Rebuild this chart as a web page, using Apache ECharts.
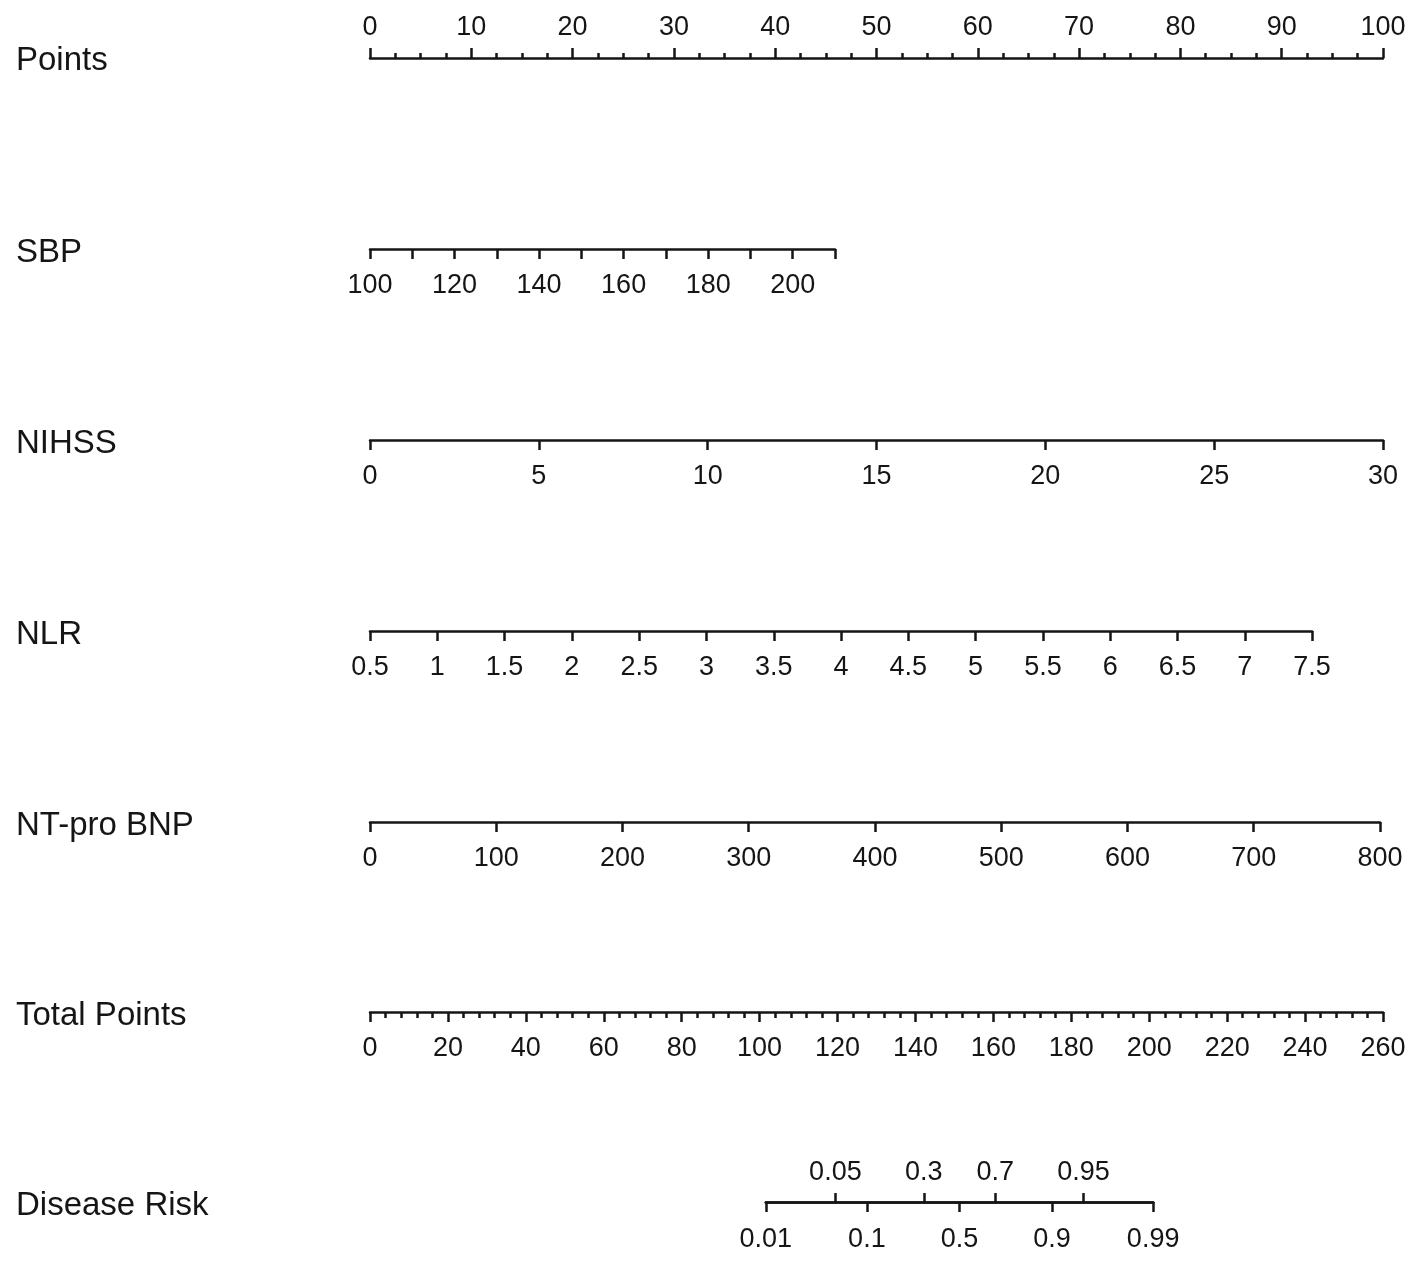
<!DOCTYPE html>
<html>
<head>
<meta charset="utf-8">
<script src="https://cdn.jsdelivr.net/npm/echarts@6/dist/echarts.min.js"></script>
<style>
html, body { margin: 0; background: #fff; }
#main { width: 1414px; height: 1262px; }
</style>
</head>
<body>
<div id="main"></div>
<script>
var rowNames = ['Points', 'SBP', 'NIHSS', 'NLR', 'NT-pro BNP', 'Total Points', 'Disease Risk'];

// [min, max, tick step]
var pointsScale = [0, 100, 10];
var sbpScale = [100, 210, 10];
var sbpLabelStep = 20;
var nihssScale = [0, 30, 5];
var nlrScale = [0.5, 7.5, 0.5];
var bnpScale = [0, 800, 100];
var totalScale = [0, 260, 20];

// points each predictor reaches at its max value (Points, SBP, NIHSS, NLR, NT-pro BNP)
var maxPoints = [100, 45.9, 100, 93.0, 99.7];

var riskBelow = [0.01, 0.1, 0.5, 0.9, 0.99];
var riskAbove = [0.05, 0.3, 0.7, 0.95];
// linear predictor = riskSlope * (totalPoints - riskMid)
var riskMid = 151.3;
var riskSlope = 0.09245;

var chartDom = document.getElementById('main');
var myChart = echarts.init(chartDom);
var option;

var W = 1414;
var plotLeft = 370;
var plotWidth = 1013;
var rowY = [57, 249, 440, 631, 822, 1012, 1202];
var ink = '#151515';
var font = 'Liberation Sans, Arial, Helvetica, sans-serif';

function logit(p) { return Math.log(p / (1 - p)); }
function invLogit(v) { return 1 / (1 + Math.exp(-v)); }

var grids = [], xAxes = [], yAxes = [];

function addRow(grid, axis) {
    var idx = grids.length;
    grid.outerBoundsMode = 'none';
    grid.containLabel = false;
    grids.push(grid);
    yAxes.push({ type: 'value', gridIndex: idx, show: false, min: 0, max: 1 });
    var base = {
        type: 'value',
        gridIndex: idx,
        axisLine: { show: true, lineStyle: { color: ink, width: 2.5 } },
        axisTick: { show: true, length: 10, lineStyle: { color: ink, width: 2.5 } },
        axisLabel: { show: true, color: ink, fontSize: 27, fontFamily: font, margin: 23, showMinLabel: true, showMaxLabel: true },
        splitLine: { show: false }
    };
    xAxes.push(echarts.util.merge(base, axis, true));
}

function rightFor(pts) {
    return W - (plotLeft + plotWidth * pts / 100);
}

// Points (labels above)
addRow({ left: plotLeft, right: rightFor(maxPoints[0]), top: rowY[0], height: 1 }, {
    position: 'top', min: pointsScale[0], max: pointsScale[1], interval: pointsScale[2],
    minorTick: { show: true, splitNumber: 4, length: 5, lineStyle: { color: ink, width: 2.5 } },
    axisLabel: { margin: 16 }
});

var varScales = [sbpScale, nihssScale, nlrScale, bnpScale];
varScales.forEach(function (s, i) {
    var axis = { position: 'bottom', min: s[0], max: s[1], interval: s[2] };
    if (s === sbpScale) {
        axis.axisLabel = { formatter: function (v) { return v % sbpLabelStep === 0 ? String(v) : ''; } };
    }
    addRow({ left: plotLeft, right: rightFor(maxPoints[i + 1]), top: rowY[i + 1] - 1, height: 1 }, axis);
});

// Total Points
addRow({ left: plotLeft, right: W - plotLeft - plotWidth, top: rowY[5] - 1, height: 1 }, {
    position: 'bottom', min: totalScale[0], max: totalScale[1], interval: totalScale[2],
    minorTick: { show: true, splitNumber: 5, length: 6, lineStyle: { color: ink, width: 2.5 } },
    axisLabel: { margin: 23 }
});

// Disease Risk: logit scale placed on the total points scale
var lpLo = logit(riskBelow[0]);
var lpHi = logit(riskBelow[riskBelow.length - 1]);
var tpLo = riskMid + lpLo / riskSlope;
var tpHi = riskMid + lpHi / riskSlope;
var riskLeft = plotLeft + plotWidth * tpLo / totalScale[1];
var riskRight = W - (plotLeft + plotWidth * tpHi / totalScale[1]);
function riskFmt(v) { return String(Number(invLogit(v).toFixed(2))); }

addRow({ left: riskLeft, right: riskRight, top: rowY[6] - 1, height: 1 }, {
    position: 'bottom', min: lpLo, max: lpHi,
    axisTick: { customValues: riskBelow.map(logit) },
    axisLabel: { customValues: riskBelow.map(logit), formatter: riskFmt, margin: 24 }
});
addRow({ left: riskLeft, right: riskRight, top: rowY[6] - 1, height: 1 }, {
    position: 'top', min: lpLo, max: lpHi,
    axisTick: { customValues: riskAbove.map(logit), length: 9 },
    axisLabel: { customValues: riskAbove.map(logit), formatter: riskFmt, margin: 15 }
});

option = {
    backgroundColor: '#fff',
    animation: false,
    title: rowNames.map(function (name, i) {
        return {
            text: name, left: 16, top: rowY[i] - 13, padding: 0,
            textStyle: { fontSize: 33, fontWeight: 'normal', color: ink, fontFamily: font }
        };
    }),
    grid: grids,
    xAxis: xAxes,
    yAxis: yAxes,
    series: []
};

option && myChart.setOption(option);
</script>
</body>
</html>
